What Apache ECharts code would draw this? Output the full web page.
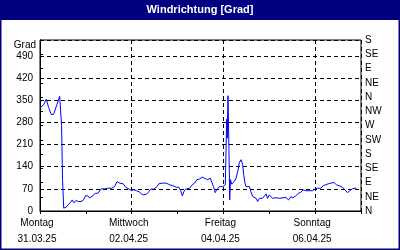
<!DOCTYPE html>
<html><head><meta charset="utf-8">
<script src="https://cdn.jsdelivr.net/npm/echarts@6/dist/echarts.min.js"></script>
<style>html,body{margin:0;padding:0;background:#fff}#c{width:400px;height:250px}</style>
</head><body><div id="c"></div>
<script>
const titleText = 'Windrichtung [Grad]';
const yName = 'Grad';
const dayNames = ['Montag','Dienstag','Mittwoch','Donnerstag','Freitag','Samstag','Sonntag','Montag'];
const dayDates = ['31.03.25','01.04.25','02.04.25','03.04.25','04.04.25','05.04.25','06.04.25','07.04.25'];
const compass = ['N','NE','E','SE','S','SW','W','NW','N','NE','E','SE','S'];
// hours since 31.03.25 00:00
const hours = [0,2.1,3.3,4.5,5.9,7.1,8.9,10.3,11.0,11.3,11.8,12.4,13.7,14.6,15.8,16.9,17.7,18.9,20.2,21.5,22.8,23.8,25.0,25.9,26.8,27.7,28.9,30.3,32.0,33.8,35.5,36.4,37.6,39.0,40.3,41.6,43.5,44.9,46.6,47.8,49.0,50.5,51.8,53.1,54.3,55.7,57.0,57.9,58.8,59.6,60.5,61.2,62.2,64.0,66.1,67.8,69.5,71.3,72.7,73.6,74.5,75.3,76.2,77.1,78.3,79.7,80.9,82.1,83.5,84.9,85.6,86.6,87.8,89.1,90.1,90.8,91.7,92.5,93.9,94.8,95.6,97.0,97.7,98.0,98.4,98.9,99.3,99.7,100.3,100.9,101.7,102.6,103.5,104.3,105.2,105.7,106.1,106.6,107.3,107.8,108.7,109.6,110.4,111.3,112.2,113.1,113.9,114.8,115.7,116.5,117.4,118.3,119.1,120.0,120.9,121.7,123.5,125.2,128.7,130.1,131.3,132.5,133.9,135.3,136.5,137.7,139.1,142.6,144.0,145.2,147.0,148.2,149.6,150.9,152.2,153.0,153.9,155.1,156.5,157.4,158.2,159.7,160.9,162.1,163.5,164.9,165.6];
const degrees = [325,337,353,327,305,305,337,362,364,270,100,9,12,19,26,35,26,33,30,30,35,48,48,41,37,48,56,56,70,70,72,75,72,77,93,88,86,75,69,65,67,64,61,54,51,53,61,69,65,69,67,77,86,88,88,83,80,75,75,65,48,61,69,65,72,83,88,99,101,107,111,102,99,104,99,77,58,67,77,83,77,83,290,230,364,190,35,99,85,88,93,104,125,152,162,164,146,115,88,77,80,77,61,46,50,40,30,40,46,40,46,54,40,51,56,40,42,40,43,35,45,42,48,56,59,67,64,64,70,72,72,80,83,86,88,86,90,83,80,83,75,67,58,64,70,72,72];

const seriesData = hours.map((h, i) => [h, degrees[i]]);
const FONT = 'Liberation Sans, Arial, sans-serif';
const chart = echarts.init(document.getElementById('c'), null, {renderer: 'canvas'});
chart.setOption({
  animation: false,
  backgroundColor: '#ffffff',
  graphic: [
    {type: 'rect', shape: {x: 0, y: 0, width: 400, height: 20}, style: {fill: '#000080'}, z: 10},
    {type: 'rect', shape: {x: 0.5, y: 0.5, width: 399, height: 249}, style: {fill: 'none', stroke: '#000080', lineWidth: 2}, z: 10},
    {type: 'text', x: 200, y: 10, style: {text: titleText, fill: '#fff', font: 'bold 11px ' + FONT, textAlign: 'center', textVerticalAlign: 'middle'}, z: 11}
  ],
  grid: {left: 40, right: 39, top: 40, bottom: 39, show: true, borderColor: '#000', borderWidth: 1, backgroundColor: '#fff'},
  xAxis: [
    {type: 'value', min: 0, max: 168, interval: 48, position: 'bottom',
     axisLine: {show: true, lineStyle: {color: '#000'}}, axisTick: {show: false},
     splitLine: {show: true, lineStyle: {color: '#000', type: [4, 3], width: 1}},
     axisLabel: {showMaxLabel: false, color: '#000', fontFamily: FONT, fontSize: 10, lineHeight: 16, margin: 4, padding: [0, 6, 0, 0],
       formatter: v => { const i = Math.round(v / 24); return dayNames[i] + '\n' + dayDates[i]; }}},
    {type: 'value', min: 0, max: 168, interval: 24, position: 'bottom',
     axisLine: {show: false}, axisTick: {show: true, inside: false, length: 3, lineStyle: {color: '#000'}},
     splitLine: {show: false}, axisLabel: {show: false}}
  ],
  yAxis: [
    {type: 'value', min: 0, max: 540, interval: 70, position: 'left',
     name: yName, nameLocation: 'end', nameGap: -5,
     nameTextStyle: {color: '#000', fontFamily: FONT, fontSize: 10, align: 'right', verticalAlign: 'middle', padding: [0, 4, 0, 0]},
     axisLine: {show: true, lineStyle: {color: '#000'}}, axisTick: {show: false},
     splitLine: {show: true, lineStyle: {color: '#000', type: [4, 3], width: 1}},
     axisLabel: {showMaxLabel: false, color: '#000', fontFamily: FONT, fontSize: 10, margin: 7}},
    {type: 'value', min: 0, max: 540, interval: 45, position: 'right',
     axisLine: {show: true, lineStyle: {color: '#000'}}, axisTick: {show: true, length: 3, lineStyle: {color: '#000'}},
     splitLine: {show: false},
     axisLabel: {color: '#000', fontFamily: FONT, fontSize: 10, margin: 4, formatter: v => compass[Math.round(v / 45)]}}
  ],
  series: [{type: 'line', xAxisIndex: 0, yAxisIndex: 0, data: seriesData, showSymbol: false, symbol: 'none',
    lineStyle: {color: '#0000ff', width: 1}, z: 5}]
});
</script></body></html>
